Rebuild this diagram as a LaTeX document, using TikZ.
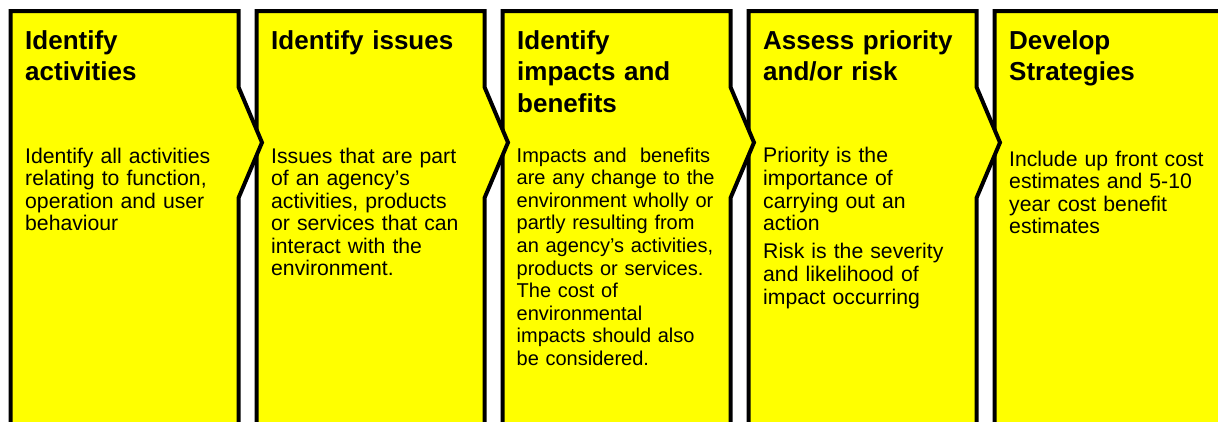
\documentclass[tikz,border=0pt]{standalone}
\usepackage{fontspec}
\setmainfont{Liberation Sans}
\definecolor{stagefill}{RGB}{255,255,0}
\begin{document}
\begin{tikzpicture}[x=1pt,y=-1pt,
  stage/.style={fill=stagefill, draw=black, line width=4pt, line join=miter},
  ttl/.style={anchor=base west, inner sep=0pt, text width=220pt, align=left,
    font=\bfseries\fontsize{26}{31.3}\selectfont},
  bdy/.style={anchor=base west, inner sep=0pt, text width=220pt, align=left,
    font=\fontsize{21.2}{22.4}\selectfont},
  bdywide/.style={bdy, font=\fontsize{21.2}{22.7}\selectfont},
  bdysmall/.style={bdy, font=\fontsize{20}{22.6}\selectfont}]
\useasboundingbox (0,0) rectangle (1218,421);
\clip (0,0) rectangle (1218,421);

% chevron stages, drawn right to left so each tip lies over the next stage
\foreach \L in {994.5,748.5,502.5,256.5,10.5}{
  \draw[stage] (\L,450) -- (\L,11) -- (\L+228,11) -- (\L+228,87)
    -- (\L+251.5,142.5) -- (\L+228,198) -- (\L+228,450) -- cycle;
}

% stage 1
\node[ttl] (t1) at (25,49.5) {Identify\\activities};
\node[bdy] (b1) at (25,163.5) {Identify all activities\\relating to function,\\operation and user\\behaviour};

% stage 2
\node[ttl] (t2) at (271,49.5) {Identify issues};
\node[bdy] (b2) at (271,163.5) {Issues that are part\\of an agency’s\\activities, products\\or services that can\\interact with the\\environment.};

% stage 3
\node[ttl] (t3) at (517,49.5) {Identify\\impacts and\\benefits};
\node[bdysmall] (b3) at (516.5,162) {Impacts and\ \ benefits\\are any change to the\\environment wholly or\\partly resulting from\\an agency’s activities,\\products or services.\\The cost of\\environmental\\impacts should also\\be considered.};

% stage 4
\node[ttl] (t4) at (763,49) {Assess priority\\and/or risk};
\node[bdywide] (b4) at (763,162.7) {Priority is the\\importance of\\carrying out an\\action\\[5.3pt]Risk is the severity\\and likelihood of\\impact occurring};

% stage 5
\node[ttl] (t5) at (1009,49.5) {Develop\\Strategies};
\node[bdy] (b5) at (1009,166.5) {Include up front cost\\estimates and 5-10\\year cost benefit\\estimates};
\end{tikzpicture}
\end{document}
